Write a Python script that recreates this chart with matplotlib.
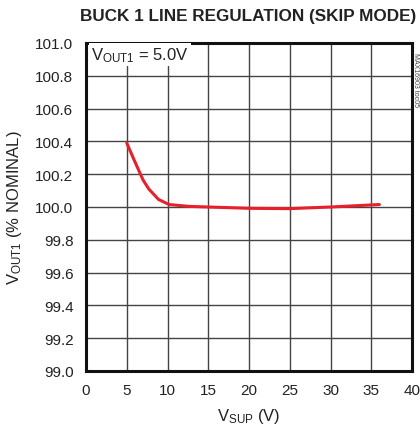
import matplotlib
matplotlib.use('Agg')
import matplotlib.pyplot as plt
from matplotlib import font_manager

# curve
vsup = [5, 5.7, 6.5, 7, 7.7, 8.9, 10.2, 12.6, 15, 20, 25, 30, 36]
vout = [100.39, 100.31, 100.22, 100.165, 100.11, 100.046, 100.015, 100.004, 100.0, 99.992, 99.99, 100.0, 100.015]

xticks = [0, 5, 10, 15, 20, 25, 30, 35, 40]
yticks = [99.0, 99.2, 99.4, 99.6, 99.8, 100.0, 100.2, 100.4, 100.6, 100.8, 101.0]

names = {f.name for f in font_manager.fontManager.ttflist}
fam = 'Liberation Sans Narrow' if 'Liberation Sans Narrow' in names else 'Liberation Sans'
plt.rcParams['font.family'] = [fam, 'DejaVu Sans']
plt.rcParams['mathtext.fontset'] = 'custom'
plt.rcParams['mathtext.rm'] = fam
plt.rcParams['mathtext.it'] = fam

fig = plt.figure(figsize=(4.2, 4.31), dpi=100)
ax = fig.add_axes([86 / 420, 59 / 431, 326 / 420, 328 / 431])

ax.plot(vsup, vout, color='#e8202a', linewidth=2.2, solid_capstyle='round', zorder=3)

ax.set_xlim(0, 40)
ax.set_ylim(99.0, 101.0)
ax.set_xticks(xticks)
ax.set_yticks(yticks)
ax.set_xticklabels([str(t) for t in xticks])
ax.set_yticklabels([f'{t:.1f}' for t in yticks])
ax.tick_params(length=0, labelsize=11, pad=9, colors='#222222')
ax.grid(True, color='#444444', linewidth=1.0)
ax.set_axisbelow(True)
for s in ax.spines.values():
    s.set_linewidth(2.2)
    s.set_color('#111111')

ax.set_xlabel(r'V$_{\mathrm{SUP}}$ (V)', fontsize=12, labelpad=6, color='#222222')
ax.set_ylabel(r'V$_{\mathrm{OUT1}}$ (% NOMINAL)', fontsize=12, labelpad=8, color='#222222')
ax.text(0.6, 100.93, r'V$_{\mathrm{OUT1}}$ = 5.0V', fontsize=12, va='center', ha='left',
        color='#222222', zorder=4,
        bbox=dict(facecolor='white', edgecolor='none', pad=1.5))

fig.text(248 / 420, 1 - 16 / 431, 'BUCK 1 LINE REGULATION (SKIP MODE)', ha='center', va='center',
         fontsize=12.3, fontweight='bold', color='#222222')
fig.text(416 / 420, 1 - 80 / 431, 'MAX16903 toc05', rotation=270, ha='center', va='center',
         fontsize=5, color='#444444')

fig.savefig('out.png', dpi=100)
